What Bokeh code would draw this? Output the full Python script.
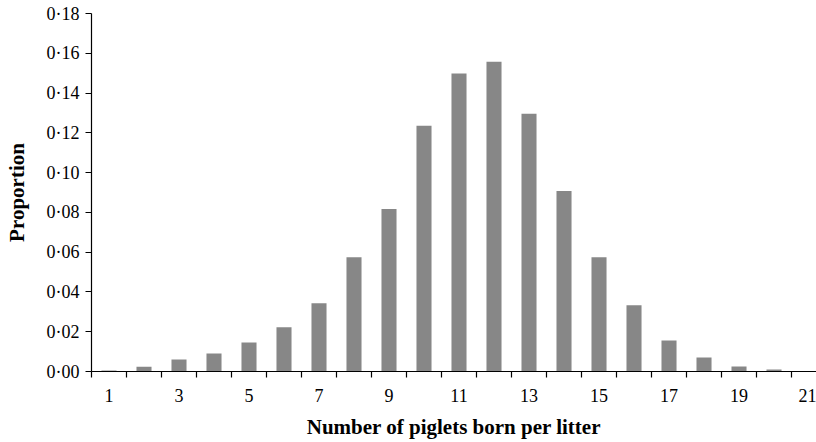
from bokeh.plotting import figure
from bokeh.models import LinearAxis, FixedTicker, Range1d, ColumnDataSource
from bokeh.embed import file_html
from bokeh.resources import INLINE

# Litter size distribution
litter_sizes = [1, 2, 3, 4, 5, 6, 7, 8, 9, 10, 11, 12, 13, 14, 15, 16, 17, 18, 19, 20, 21]
proportions = [0.0005, 0.0024, 0.006, 0.009, 0.0146, 0.0222, 0.0343, 0.0575, 0.0817,
               0.1236, 0.1498, 0.1558, 0.1296, 0.0908, 0.0575, 0.0333, 0.0156,
               0.0071, 0.0025, 0.001, 0.0]

x_label_values = [1, 3, 5, 7, 9, 11, 13, 15, 17, 19, 21]
x_tick_labels = ["1", "3", "5", "7", "9", "11", "13", "15", "17", "19", "21"]
y_tick_values = [0.0, 0.02, 0.04, 0.06, 0.08, 0.10, 0.12, 0.14, 0.16, 0.18]
y_tick_labels = ["0·00", "0·02", "0·04", "0·06", "0·08", "0·10", "0·12", "0·14", "0·16", "0·18"]

FONT = "Liberation Serif"

source = ColumnDataSource(data=dict(size=litter_sizes, prop=proportions))

p = figure(
    width=816, height=442,
    output_backend="svg", toolbar_location=None,
    x_axis_location=None, y_axis_location=None,
    x_range=Range1d(0.5, 21.214), y_range=Range1d(0, 0.18),
    min_border_left=91, min_border_right=0, min_border_top=13, min_border_bottom=71,
)
p.outline_line_color = None
p.xgrid.visible = False
p.ygrid.visible = False
p.background_fill_color = "white"
p.border_fill_color = "white"

p.vbar(x="size", top="prop", width=0.43, bottom=0, source=source,
       fill_color="#878787", line_color=None)

# Y axis
ya = LinearAxis(ticker=FixedTicker(ticks=y_tick_values, minor_ticks=[]))
ya.major_label_overrides = {v: s for v, s in zip(y_tick_values, y_tick_labels)}
ya.major_label_text_font = FONT
ya.major_label_text_font_size = "18px"
ya.major_label_text_color = "black"
ya.major_tick_out = 6
ya.major_tick_in = 0
ya.major_label_standoff = 6
ya.minor_tick_line_color = None
ya.axis_line_color = "black"
ya.axis_line_width = 1.2
ya.major_tick_line_color = "black"
ya.axis_label = "Proportion"
ya.axis_label_text_font = FONT
ya.axis_label_text_font_style = "bold"
ya.axis_label_text_font_size = "21px"
ya.axis_label_text_color = "black"
ya.axis_label_standoff = 15
p.add_layout(ya, "left")

# X axis: labels at bar centres, tick marks (minor) between categories
xa = LinearAxis(ticker=FixedTicker(ticks=x_label_values,
                                   minor_ticks=[s - 0.5 for s in litter_sizes]))
xa.major_label_overrides = {v: s for v, s in zip(x_label_values, x_tick_labels)}
xa.axis_line_color = "black"
xa.axis_line_width = 1.2
xa.major_tick_line_color = None
xa.major_tick_out = 6
xa.major_tick_in = 0
xa.minor_tick_line_color = "black"
xa.minor_tick_line_width = 1.2
xa.minor_tick_out = 6
xa.minor_tick_in = 0
xa.major_label_standoff = 11
xa.major_label_text_font = FONT
xa.major_label_text_font_size = "18px"
xa.major_label_text_color = "black"
xa.axis_label = "Number of piglets born per litter"
xa.axis_label_text_font = FONT
xa.axis_label_text_font_style = "bold"
xa.axis_label_text_font_size = "21px"
xa.axis_label_text_color = "black"
xa.axis_label_standoff = 10
p.add_layout(xa, "below")

open("out.html", "w").write(file_html(p, INLINE))
